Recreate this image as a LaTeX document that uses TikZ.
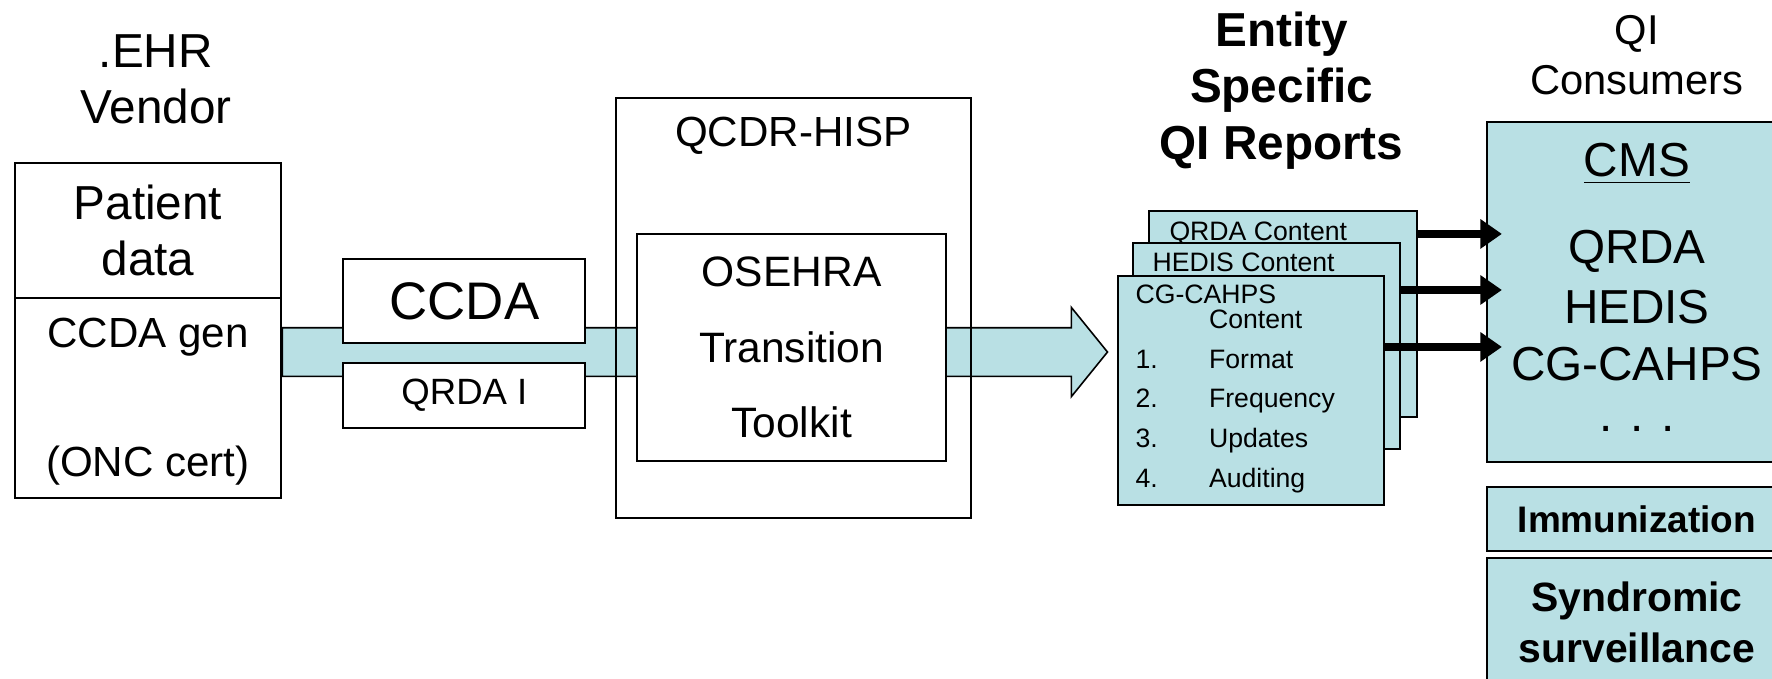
\documentclass[tikz,border=0pt]{standalone}
\usepackage{fontspec}
\setmainfont{Liberation Sans}
\definecolor{qiteal}{RGB}{185, 224, 228}
\usepackage{tikz}
\usetikzlibrary{shapes, arrows.meta, positioning, calc, backgrounds}

\begin{document}
\begin{tikzpicture}[x=0.01cm, y=-0.01cm, line width=0.5pt,
    box/.style={draw, fill=white, inner sep=0pt, anchor=north west, align=center},
    card/.style={draw, fill=qiteal, inner sep=0pt, anchor=north west, align=center},
    cardtxt/.style={anchor=base west, inner sep=0pt, font=\fontsize{6.7}{8}\selectfont},
    bigfont/.style={font=\fontsize{12}{14.2}\selectfont},
    midfont/.style={font=\fontsize{10.6}{12.7}\selectfont},
    feed/.style={line width=1.85pt, -{Triangle[length=0.19cm, width=0.25cm]}}]
  \path[use as bounding box, clip] (0,0) rectangle (1568,600);

  % EHR vendor side
  \node[box, bigfont, minimum width=2.36cm, minimum height=1.2cm] (patient) at (12,143) {Patient\\data};
  \node[box, minimum width=2.36cm, minimum height=1.77cm] (gen) at (12,263) {};
  \node[midfont] (gentxt) at ($(gen.north)+(0,35)$) {CCDA gen};
  \node[midfont] (onc) at ($(gen.north)+(0,149)$) {(ONC cert)};
  \node[bigfont, align=center] (vendor) at ($(patient.north)+(7,-73)$) {.EHR\\Vendor};

  \node[box, font=\fontsize{13.3}{16}\selectfont, minimum width=2.14cm, minimum height=0.75cm] (ccda) at (303,228) {CCDA};
  \node[box, font=\fontsize{9.2}{11}\selectfont, minimum width=2.14cm, minimum height=0.58cm] (qrdai) at (303,320) {QRDA I};

  % QCDR-HISP with the toolkit
  \node[draw, inner sep=0pt, anchor=north west, minimum width=3.14cm, minimum height=3.71cm] (qcdr) at (544,86) {};
  \node[midfont] (hisp) at ($(qcdr.north)+(0,34)$) {QCDR-HISP};
  \node[box, font=\fontsize{10.7}{19}\selectfont, minimum width=2.73cm, minimum height=2.01cm] (osehra) at (563,206) {OSEHRA\\Transition\\Toolkit};

  % report cards
  \node[card, minimum width=2.37cm, minimum height=1.82cm] (qrdacard) at (1016,186) {};
  \node[cardtxt] (qrdacont) at ($(qrdacard.north west)+(18,27)$) {QRDA Content};
  \node[card, minimum width=2.36cm, minimum height=1.82cm] (hediscard) at (1002,214) {};
  \node[cardtxt] (hediscont) at ($(hediscard.north west)+(17,26)$) {HEDIS Content};
  \node[card, minimum width=2.36cm, minimum height=2.03cm] (cgcard) at (988,243) {};
  \node[cardtxt] (cgcont) at ($(cgcard.north west)+(16,26)$) {CG-CAHPS};
  \node[cardtxt] (cgcont2) at ($(cgcard.north west)+(81,47.5)$) {Content};
  \foreach \w [count=\i] in {Format, Frequency, Updates, Auditing} {
    \node[cardtxt] (num\i) at ($(cgcard.north west)+(16,48+35*\i)$) {\i.};
    \node[cardtxt] (item\i) at ($(cgcard.north west)+(81,48+35*\i)$) {\w};
  }
  \node[font=\bfseries\fontsize{12}{14.2}\selectfont, align=center] (entity) at ($(qrdacard.north)+(-1.5,-106)$) {Entity\\Specific\\QI Reports};

  % consumers
  \node[card, minimum width=2.65cm, minimum height=3.01cm] (cms) at (1315,107) {};
  \node[bigfont] (cmslbl) at ($(cms.north)+(0,38)$) {\underline{CMS}};
  \foreach \t [count=\i] in {QRDA, HEDIS, CG-CAHPS} {
    \node[bigfont] (cms\i) at ($(cms.north)+(0,65+50*\i)$) {\t};
  }
  \node[bigfont] (dots) at ($(cms.north)+(0,273)$) {. . .};
  \node[font=\fontsize{10.5}{12.5}\selectfont, align=center] (consumers) at ($(cms.north)+(0,-58)$) {QI\\Consumers};
  \node[card, font=\bfseries\fontsize{9.3}{11}\selectfont, minimum width=2.65cm, minimum height=0.57cm] (immun) at (1315,430) {Immunization};
  \node[card, font=\bfseries\fontsize{10.3}{12.8}\selectfont, minimum width=2.65cm, minimum height=1.13cm] (synd) at (1315,493) {Syndromic\\surveillance};

  \draw[feed] ($(qrdacard.north east)+(0,21)$) -- ($(cms.north west)+(14,100)$);
  \draw[feed] ($(hediscard.north east)+(0,42.6)$) -- ($(cms.north west)+(14,149.6)$);
  \draw[feed] ($(cgcard.north east)+(0,64)$) -- ($(cms.north west)+(14,200)$);

  % big flow arrow behind the boxes
  \coordinate (tail) at ($(gen.north east)+(0,48.5)$);
  \coordinate (tip) at ($(cgcard.north west)+(-8,68.5)$);
  \begin{scope}[on background layer]
    \draw[fill=qiteal] ($(tail)+(0,-21.5)$) -- ($(tip)+(-32,-21.5)$) -- ($(tip)+(-32,-39.5)$) -- (tip)
      -- ($(tip)+(-32,39.5)$) -- ($(tip)+(-32,21.5)$) -- ($(tail)+(0,21.5)$) -- cycle;
  \end{scope}
\end{tikzpicture}
\end{document}
